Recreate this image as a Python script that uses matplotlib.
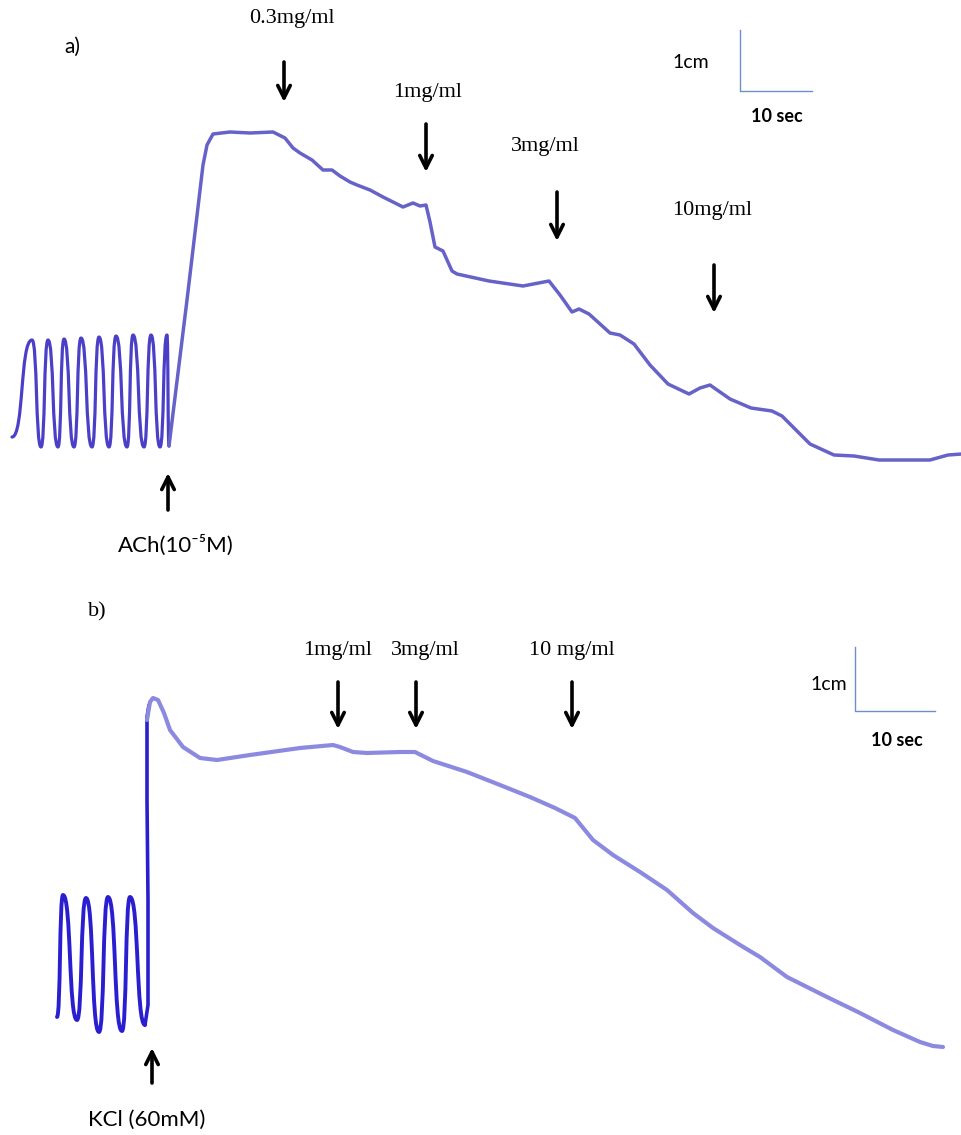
import matplotlib.pyplot as plt
from matplotlib.path import Path
from matplotlib.patches import PathPatch

# trace a) - spontaneous contractions (peaks / troughs), then ACh response
osc_a_x = [12, 32, 41, 48, 58, 64, 74, 81, 92, 99, 109, 116, 127, 133, 144, 151, 160, 167, 169]
osc_a_y = [437, 340, 447, 340, 447, 339, 447, 338, 447, 337, 447, 336, 447, 335, 447, 335, 447, 335, 446]

trace_a_x = [169, 187, 203, 207, 213, 230, 250, 273, 285, 293, 300, 312, 323, 332, 340, 350,
             357, 370, 383, 403, 413, 420, 426, 430, 435, 443, 452, 457, 489, 523, 549, 560,
             572, 579, 589, 610, 620, 634, 650, 668, 689, 700, 710, 730, 751, 772, 782, 810,
             834, 854, 879, 903, 930, 948, 962]
trace_a_y = [446, 300, 165, 145, 134, 132, 133, 132, 138, 148, 153, 160, 170, 170, 176, 182,
             185, 190, 197, 207, 203, 206, 205, 222, 247, 251, 271, 274, 281, 286, 281, 295,
             312, 309, 314, 333, 335, 344, 365, 384, 394, 388, 385, 399, 408, 411, 416, 444,
             455, 456, 460, 460, 460, 455, 454]

# trace b) - spontaneous contractions, then KCl response
osc_b_x = [57, 63, 77, 86, 99, 108, 122, 130, 145]
osc_b_y = [1017, 895, 1020, 898, 1032, 897, 1031, 897, 1025]

rise_b_x = [145, 148, 148, 147, 147, 149]
rise_b_y = [1025, 1005, 900, 800, 717, 705]

trace_b_x = [147, 150, 153, 158, 164, 170, 183, 200, 217, 250, 300, 333, 340, 353, 367, 400,
             415, 433, 467, 500, 530, 555, 575, 593, 613, 640, 667, 693, 713, 740, 760, 787,
             827, 860, 893, 920, 933, 943]
trace_b_y = [720, 702, 698, 700, 713, 730, 747, 758, 760, 755, 748, 745, 747, 752, 753, 752,
             752, 761, 772, 785, 797, 808, 818, 840, 855, 872, 890, 913, 928, 945, 957, 977,
             997, 1013, 1030, 1042, 1046, 1047]

# drug additions
labels_a = ["0.3mg/ml", "1mg/ml", "3mg/ml", "10mg/ml"]
labels_b = ["1mg/ml", "3mg/ml", "10 mg/ml"]

SERIF = "Liberation Serif"
SANS = ["Lato", "DejaVu Sans"]


def wave_path(xs, ys, a=0.6):
    # smooth loops: horizontal tangent at each peak / trough
    verts = [(xs[0], ys[0])]
    codes = [Path.MOVETO]
    for i in range(1, len(xs)):
        x0, y0, x1, y1 = xs[i - 1], ys[i - 1], xs[i], ys[i]
        d = (x1 - x0) * a
        verts += [(x0 + d, y0), (x1 - d, y1), (x1, y1)]
        codes += [Path.CURVE4] * 3
    return Path(verts, codes)


def arrow(ax, x, start, end):
    ax.annotate("", xy=(x, end), xytext=(x, start),
                arrowprops=dict(arrowstyle="->,head_length=0.9,head_width=0.45",
                                lw=2.6, color="black", shrinkA=0, shrinkB=0))


def scale_bar(ax, x, ytop, ybot, xend):
    ax.plot([x, x, xend], [ytop, ybot, ybot], color="#6e8fcf", lw=1.0)


fig = plt.figure(figsize=(9.62, 11.35), dpi=100)
ax = fig.add_axes([0, 0, 1, 1])
ax.set_xlim(0, 962)
ax.set_ylim(1135, 0)
ax.axis("off")

# panel a
ax.add_patch(PathPatch(wave_path(osc_a_x, osc_a_y), fill=False, edgecolor="#4b3fc8",
                       lw=2.3, capstyle="round", joinstyle="round"))
ax.plot(trace_a_x, trace_a_y, color="#6662c8", lw=2.5, solid_joinstyle="round",
        solid_capstyle="round")

ax.text(72, 47, "a)", fontsize=15, family=SANS, ha="center", va="center")
for lab, x, ty, ax_x, top, bot in zip(labels_a, [292, 428, 545, 712], [18, 93, 146, 210],
                                      [284, 426, 557, 714],
                                      [62, 124, 192, 265], [102, 172, 241, 313]):
    ax.text(x, ty, lab, fontsize=16, family=SERIF, ha="center", va="center")
    arrow(ax, ax_x, top, bot)

arrow(ax, 168, 510, 473)
ax.text(176, 545, "ACh(10\u207b\u2075M)", fontsize=16, family=SANS, ha="center", va="center")

scale_bar(ax, 740, 30, 91, 812)
ax.text(691, 63, "1cm", fontsize=14, family=SANS, ha="center", va="center")
ax.text(777, 117, "10 sec", fontsize=13, family=SANS, ha="center", va="center",
        fontweight="bold")

# panel b
ax.add_patch(PathPatch(wave_path(osc_b_x, osc_b_y), fill=False, edgecolor="#2a1fd0",
                       lw=2.8, capstyle="round", joinstyle="round"))
ax.plot(rise_b_x, rise_b_y, color="#2a1fd0", lw=2.6, solid_capstyle="round")
ax.plot(trace_b_x, trace_b_y, color="#8c8ae0", lw=3.0, solid_joinstyle="round",
        solid_capstyle="round")

ax.text(97, 612, "b)", fontsize=16, family=SERIF, ha="center", va="center")
for lab, x in zip(labels_b, [338, 425, 572]):
    ax.text(x, 650, lab, fontsize=16, family=SERIF, ha="center", va="center")
for x in [338, 416, 572]:
    arrow(ax, x, 682, 729)

arrow(ax, 152, 1083, 1048)
ax.text(147, 1120, "KCl (60mM)", fontsize=16, family=SANS, ha="center", va="center")

scale_bar(ax, 855, 647, 711, 935)
ax.text(829, 685, "1cm", fontsize=14, family=SANS, ha="center", va="center")
ax.text(897, 740, "10 sec", fontsize=13, family=SANS, ha="center", va="center",
        fontweight="bold")

fig.savefig("out.png", dpi=100)
